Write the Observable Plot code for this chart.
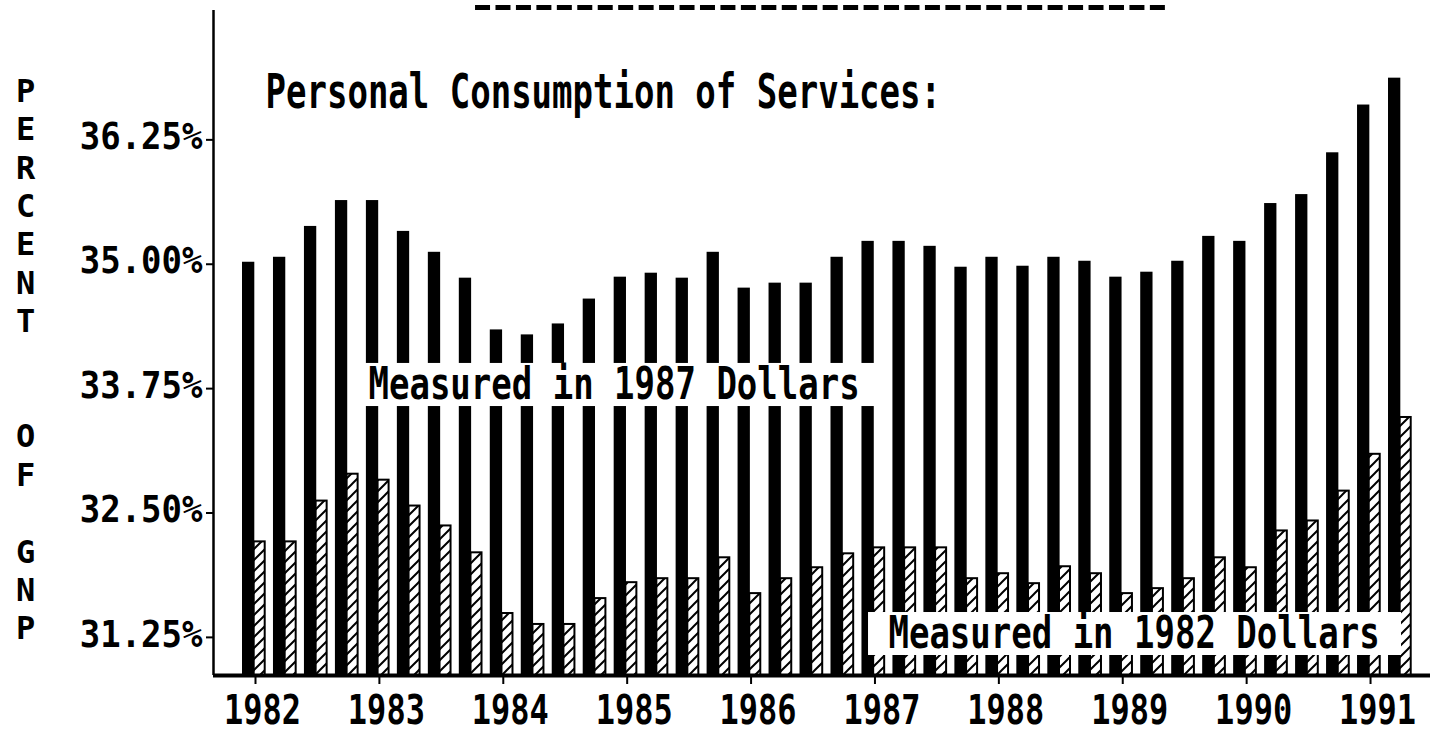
<!DOCTYPE html>
<html>
<head>
<meta charset="utf-8">
<script src="https://cdn.jsdelivr.net/npm/d3@7"></script>
<script src="https://cdn.jsdelivr.net/npm/@observablehq/plot@0.6"></script>
<style>
  html, body { margin: 0; padding: 0; background: #fff; }
  #chart svg { display: block; }
</style>
</head>
<body>
<div id="chart"></div>
<script>
// ---- data (quarterly, 1982 Q1 – 1991 Q2) ----
const startYear = 1982;
const yearTicks = [1982, 1983, 1984, 1985, 1986, 1987, 1988, 1989, 1990, 1991];
const percentTicks = [31.25, 32.5, 33.75, 35, 36.25];
// Personal consumption of services, % of GNP, measured in 1987 dollars (solid bars)
const services1987Dollars = [
  35.02, 35.07, 35.38, 35.64,
  35.64, 35.33, 35.12, 34.86,
  34.34, 34.29, 34.40, 34.65,
  34.87, 34.91, 34.86, 35.12,
  34.76, 34.81, 34.81, 35.07,
  35.23, 35.23, 35.18, 34.97,
  35.07, 34.98, 35.07, 35.03,
  34.87, 34.92, 35.03, 35.28,
  35.23, 35.61, 35.70, 36.12,
  36.60, 36.87
];
// measured in 1982 dollars (hatched bars)
const services1982Dollars = [
  32.22, 32.22, 32.63, 32.90,
  32.84, 32.58, 32.38, 32.11,
  31.50, 31.39, 31.39, 31.65,
  31.81, 31.85, 31.85, 32.06,
  31.70, 31.85, 31.96, 32.10,
  32.16, 32.16, 32.16, 31.85,
  31.90, 31.80, 31.97, 31.90,
  31.70, 31.75, 31.85, 32.06,
  31.96, 32.33, 32.43, 32.73,
  33.10, 33.47
];
const titleText = "Personal Consumption of Services:";
const label1987 = "Measured in 1987 Dollars";
const label1982 = "Measured in 1982 Dollars";
const axisLetters = "P\nE\nR\nC\nE\nN\nT\n\n\nO\nF\n\nG\nN\nP";

// ---- build table ----
const rows = services1987Dollars.map((v, i) => ({
  t: startYear + i / 4,
  v87: v,
  v82: services1982Dollars[i]
}));

const W = 1430, H = 734;
const mL = 213, mR = 0, mT = 10, mB = 59;
const xDomain = [1981.661, 1991.484];
const yDomain = [30.867, 37.55];
const pxPerYear = (W - mL - mR) / (xDomain[1] - xDomain[0]);
const pxPerPct = (H - mT - mB) / (yDomain[1] - yDomain[0]);
const px = p => p / pxPerYear;      // horizontal pixels -> years
const py = p => p / pxPerPct;       // vertical pixels -> percent
const font = "'DejaVu Sans Mono', 'Liberation Mono', monospace";
const pctFmt = d => d.toFixed(2) + "%";

const svg = Plot.plot({
  width: W,
  height: H,
  marginLeft: mL,
  marginRight: mR,
  marginTop: mT,
  marginBottom: mB,
  style: {background: "white", color: "black", overflow: "visible"},
  x: {domain: xDomain, axis: null},
  y: {domain: yDomain, axis: null},
  marks: [
    // solid bars (1987 dollars)
    Plot.rect(rows, {
      x1: d => d.t - px(13), x2: d => d.t - px(0.7),
      y1: () => yDomain[0], y2: "v87",
      fill: "black"
    }),
    // hatched bars (1982 dollars)
    Plot.rect(rows, {
      x1: d => d.t - px(1.3), x2: d => d.t + px(9.7),
      y1: () => yDomain[0], y2: d => d.v82 - py(1),
      fill: "url(#hatch)", stroke: "black", strokeWidth: 2
    }),
    // label backgrounds
    Plot.rect([label1987], {x1: 1982.888, x2: 1987.045, y1: 33.570, y2: 34.003, fill: "white"}),
    Plot.rect([label1982], {x1: 1986.948, x2: 1991.250, y1: 31.068, y2: 31.500, fill: "white"}),
    // texts
    Plot.text([titleText], {
      x: 1982.081, y: 36.72, text: d => d, textAnchor: "start", lineAnchor: "middle",
      fontFamily: font, fontWeight: "bold", fontSize: 34, fill: "black"
    }),
    Plot.text([label1987], {
      x: 1982.912, y: 33.79, text: d => d, textAnchor: "start", lineAnchor: "middle",
      fontFamily: font, fontWeight: "bold", fontSize: 34, fill: "black"
    }),
    Plot.text([label1982], {
      x: 1987.109, y: 31.284, text: d => d, textAnchor: "start", lineAnchor: "middle",
      fontFamily: font, fontWeight: "bold", fontSize: 34, fill: "black"
    }),
    // vertical axis title (stacked letters)
    Plot.text([axisLetters], {
      frameAnchor: "top-left", dx: -188, dy: 64, text: d => d,
      textAnchor: "middle", lineAnchor: "top", lineHeight: 1.2,
      fontFamily: font, fontWeight: "bold", fontSize: 32, fill: "black"
    }),
    // axis lines
    Plot.ruleX([xDomain[0]], {stroke: "black", strokeWidth: 2.5}),
    Plot.ruleY([yDomain[0]], {stroke: "black", strokeWidth: 4}),
    // y ticks & labels
    Plot.ruleY(percentTicks, {y: d => d, x1: xDomain[0] - px(7), x2: xDomain[0], stroke: "black", strokeWidth: 2}),
    Plot.text(percentTicks, {
      y: d => d, frameAnchor: "left", dx: -11, dy: -3, text: pctFmt,
      textAnchor: "end", lineAnchor: "middle",
      fontFamily: font, fontWeight: "bold", fontSize: 34, fill: "black"
    }),
    // x ticks & labels
    Plot.ruleX(yearTicks, {x: d => d, y1: yDomain[0], y2: yDomain[0] - py(9), stroke: "black", strokeWidth: 2}),
    Plot.text(yearTicks, {
      x: d => d, frameAnchor: "bottom", dx: 7, dy: 18.5, text: d => String(d),
      textAnchor: "middle", lineAnchor: "top",
      fontFamily: font, fontWeight: "bold", fontSize: 32, fill: "black"
    }),
    // dashed remnant of the title underline at the top
    Plot.ruleY([yDomain[1] + py(3)], {x1: 1983.776, x2: 1989.385, stroke: "black", strokeWidth: 5, strokeDasharray: "15,5.45"})
  ]
});

// hatch pattern
const defs = d3.select(svg).insert("defs", ":first-child");
const pat = defs.append("pattern")
  .attr("id", "hatch").attr("patternUnits", "userSpaceOnUse")
  .attr("width", 11).attr("height", 11);
pat.append("rect").attr("width", 11).attr("height", 11).attr("fill", "white");
pat.append("path")
  .attr("d", "M0,11 L11,0 M-2,2 L2,-2 M9,13 L13,9")
  .attr("stroke", "black").attr("stroke-width", 2);

// stretch the printer-style lettering vertically (identified by content)
const stretchBy = new Map();
stretchBy.set(titleText, 1.4);
stretchBy.set(label1987, 1.3);
stretchBy.set(label1982, 1.3);
percentTicks.forEach(d => stretchBy.set(pctFmt(d), 1.12));
yearTicks.forEach(d => stretchBy.set(String(d), 1.3));

svg.querySelectorAll("text").forEach(el => {
  const k = stretchBy.get(el.textContent);
  if (!k) return;
  const tr = el.getAttribute("transform");
  if (tr) {
    el.setAttribute("transform", tr + ` scale(1,${k})`);
  } else {
    const x = +(el.getAttribute("x") || 0), y = +(el.getAttribute("y") || 0);
    el.setAttribute("transform", `translate(${x},${y}) scale(1,${k}) translate(${-x},${-y})`);
  }
});

document.getElementById("chart").appendChild(svg);
</script>
</body>
</html>
